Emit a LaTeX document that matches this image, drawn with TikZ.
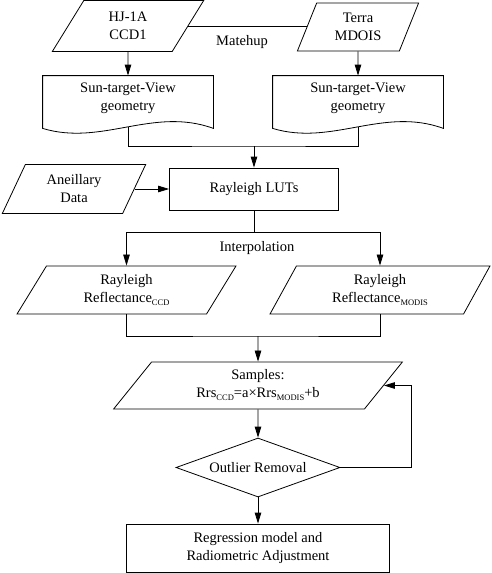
\documentclass[tikz,border=0pt]{standalone}
\usepackage{fontspec}
\setmainfont{Liberation Serif}
\usepackage{tikz}
\usetikzlibrary{calc,arrows.meta,shapes.geometric}
\tikzset{
	>={Triangle[length=11pt,width=6.5pt]},   % narrow filled heads
	io/.style={trapezium, draw, trapezium left angle=#1,
		trapezium right angle={180-#1}, trapezium stretches=true,
		align=center, inner sep=1pt},
	proc/.style={draw, rectangle, align=center, inner sep=1pt},
	docu/.style={align=center, minimum width=170pt, minimum height=44pt, inner sep=0pt},
	decide/.style={draw, diamond, aspect=2.78, inner sep=1pt,
		minimum width=164pt, minimum height=59pt}
}
% small lowered index in text
\newcommand{\lowsub}[1]{\raisebox{-0.45ex}{\fontsize{8.5}{9}\selectfont #1}}
% document outline with wavy bottom
\newcommand{\docshape}[1]{%
	\draw (#1.north west) -- (#1.north east) -- ($(#1.south east)+(0,8)$)
	.. controls ($(#1.south)+(25,-14)$) and ($(#1.south)+(-26,26)$) .. ($(#1.south west)+(0,8)$) -- cycle;
	\coordinate (#1-b) at ($(#1.south)+(0,6.5)$);
}

\begin{document}
\begin{tikzpicture}[x=1pt,y=-1pt,thick,font=\fontsize{14.5}{18}\selectfont]
	\useasboundingbox (0,0) rectangle (491,573);
	
	% input images
	\node[io=64, minimum width=152pt, minimum height=51pt] (hj) at (128,26) {HJ-1A\\CCD1};
	\node[io=69, minimum width=122pt, minimum height=48pt] (terra) at (358,27) {Terra\\MDOIS};
	\draw (hj.east) -- (hj.east -| terra.west);
	\node (mlab) at (242,42) {Matehup};
	
	% geometry
	\node[docu] (geo1) at (128,98) {Sun-target-View\\geometry};
	\node[docu] (geo2) at (358,98) {Sun-target-View\\geometry};
	\docshape{geo1}
	\docshape{geo2}
	\draw[->] (hj) -- (geo1);
	\draw[->] (terra) -- (geo2);
	
	% look-up tables
	\node[proc, minimum width=169pt, minimum height=42pt] (luts) at (254,189) {Rayleigh LUTs};
	\node[io=66, minimum width=144pt, minimum height=49pt] (anc) at (74,189) {Aneillary\\Data};
	\coordinate (m1) at (254,146);
	\draw (geo1-b) |- (m1) -| (geo2-b);
	\draw[->] (m1) -- (luts);
	\draw[->] (anc.east) -- (anc.east -| luts.west);
	
	% reflectance
	\node[io=64, minimum width=219pt, minimum height=48pt] (rc) at (126.5,290) {Rayleigh\\Reflectance\lowsub{CCD}};
	\node[io=65, minimum width=220pt, minimum height=48pt] (rm) at (380,290) {Rayleigh\\Reflectance\lowsub{MODIS}};
	\coordinate (m2) at (254,232);
	\draw (luts) -- (m2);
	\draw[->] (m2) -| (rc);
	\draw[->] (m2) -| (rm);
	\node (ilab) at (257,248) {Interpolation};
	
	% samples and regression
	\node[io=56, minimum width=289pt, minimum height=47pt] (samp) at (258,385.5) {Samples:\\Rrs\lowsub{CCD}=a×Rrs\lowsub{MODIS}+b};
	\coordinate (m3) at (258,336);
	\draw (rc) |- (m3) -| (rm);
	\draw[->] (m3) -- (samp);
	
	\node[decide] (ol) at (258,467.5) {Outlier Removal};
	\draw[->] (samp) -- (ol);
	\coordinate (fb) at (411,467.5);
	\draw[->] (ol.east) -- (fb) |- (samp.east);
	
	\node[proc, minimum width=263pt, minimum height=48pt] (res) at (258,548) {Regression model and\\Radiometric Adjustment};
	\draw[->] (ol) -- (res);
	
\end{tikzpicture}
\end{document}
